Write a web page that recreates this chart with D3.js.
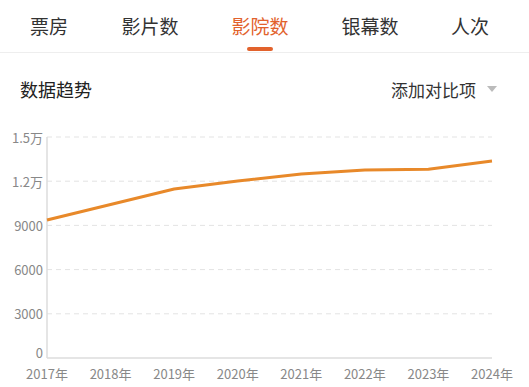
<body style="margin:0;background:#fff">
<svg id="chart" width="529" height="387"></svg>
<script src="https://cdn.jsdelivr.net/npm/d3@7"></script>
<script>
const tabs = ['票房', '影片数', '影院数', '银幕数', '人次'];
const tabX = [49, 150, 260, 370, 470];
const activeTab = 2;

const years = ['2017年', '2018年', '2019年', '2020年', '2021年', '2022年', '2023年', '2024年'];
const cinemas = [9370, 10420, 11470, 12010, 12490, 12760, 12810, 13370];
const yTicks = [0, 3000, 6000, 9000, 12000, 15000];
const yTickLabels = ['0', '3000', '6000', '9000', '1.2万', '1.5万'];

const svg = d3.select('#chart');
const font = '"Noto Sans CJK SC", "Noto Sans", sans-serif';

// tab header
svg.selectAll('text.tab')
    .data(tabs)
    .join('text')
    .attr('class', 'tab')
    .attr('x', (d, i) => tabX[i])
    .attr('y', 25)
    .attr('text-anchor', 'middle')
    .attr('dominant-baseline', 'central')
    .style('font-family', font)
    .style('font-size', '19px')
    .style('fill', (d, i) => i === activeTab ? '#E2622C' : '#333')
    .text(d => d);

svg.append('rect')
    .attr('x', 247).attr('y', 47).attr('width', 26).attr('height', 4)
    .attr('rx', 2).style('fill', '#E2622C');

svg.append('line')
    .attr('x1', 0).attr('x2', 529).attr('y1', 52.5).attr('y2', 52.5)
    .style('stroke', '#eee');

svg.append('text')
    .attr('x', 20).attr('y', 89)
    .attr('dominant-baseline', 'central')
    .style('font-family', font).style('font-size', '18px').style('fill', '#222')
    .text('数据趋势');

svg.append('text')
    .attr('x', 476).attr('y', 89)
    .attr('text-anchor', 'end')
    .attr('dominant-baseline', 'central')
    .style('font-family', font).style('font-size', '17px').style('fill', '#333')
    .text('添加对比项');

svg.append('path')
    .attr('d', 'M487,86 L497,86 L492,92 Z')
    .style('fill', '#bbb');

// chart
const x = d3.scalePoint().domain(years).range([47, 492]);
const y = d3.scaleLinear().domain([0, 15000]).range([358, 137]);

const g = svg.append('g');

g.selectAll('line.grid')
    .data(yTicks.slice(1))
    .join('line')
    .attr('x1', 47).attr('x2', 492)
    .attr('y1', d => y(d)).attr('y2', d => y(d))
    .style('stroke', '#e3e3e3')
    .style('stroke-dasharray', '5,4');

g.append('line')
    .attr('x1', 47).attr('x2', 47).attr('y1', y(15000)).attr('y2', y(0))
    .style('stroke', '#ddd').style('stroke-width', 1.5);
g.append('line')
    .attr('x1', 47).attr('x2', 492).attr('y1', y(0)).attr('y2', y(0))
    .style('stroke', '#ddd').style('stroke-width', 1.5);

g.selectAll('text.ylab')
    .data(yTicks)
    .join('text')
    .attr('class', 'ylab')
    .attr('x', 43)
    .attr('y', d => d === 0 ? y(d) - 6 : y(d))
    .attr('text-anchor', 'end')
    .attr('dominant-baseline', 'central')
    .style('font-family', font).style('font-size', '13px').style('fill', '#888')
    .text((d, i) => yTickLabels[i]);

g.selectAll('text.xlab')
    .data(years)
    .join('text')
    .attr('class', 'xlab')
    .attr('x', d => x(d))
    .attr('y', 373)
    .attr('text-anchor', 'middle')
    .attr('dominant-baseline', 'central')
    .style('font-family', font).style('font-size', '13px').style('fill', '#888')
    .text(d => d);

const line = d3.line()
    .x((d, i) => x(years[i]))
    .y(d => y(d));

g.append('path')
    .datum(cinemas)
    .attr('d', line)
    .style('fill', 'none')
    .style('stroke', '#E8892A')
    .style('stroke-width', 3)
    .style('stroke-linejoin', 'round');
</script>
</body>
